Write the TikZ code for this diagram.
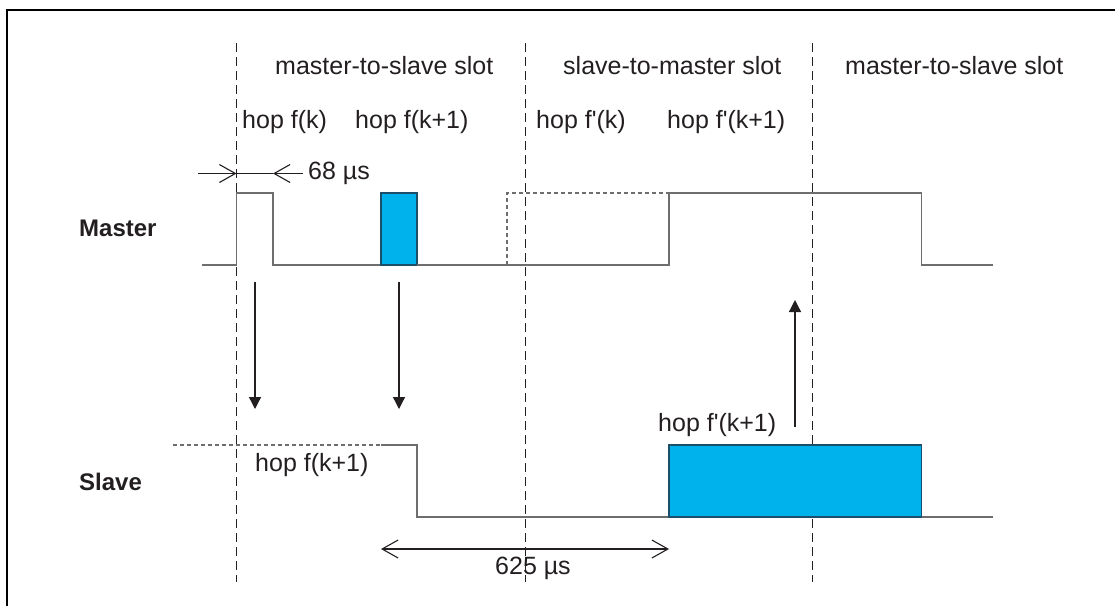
\documentclass[tikz,border=0pt]{standalone}
\usepackage{fontspec}
\setmainfont{Liberation Sans}
\usetikzlibrary{arrows.meta}
\definecolor{pulseblue}{RGB}{0,178,235}
\definecolor{pulseedge}{RGB}{28,78,108}
\definecolor{wave}{RGB}{110,110,110}
\definecolor{ink}{RGB}{35,31,32}
\begin{document}
\begin{tikzpicture}[x=1pt,y=-1pt,
  lbl/.style={anchor=base west, inner sep=0pt, font=\fontsize{25}{30}\selectfont, text=ink},
  rowlbl/.style={anchor=base west, inner sep=0pt, font=\fontsize{24}{28}\selectfont\bfseries, text=ink},
  slotline/.style={ink, line width=1.8pt, dash pattern=on 9pt off 5pt},
  waveline/.style={wave, line width=1.4pt},
  ghost/.style={wave, line width=1.2pt, dash pattern=on 4pt off 3pt},
  pulse/.style={fill=pulseblue, draw=pulseedge, line width=1.3pt},
  sig/.style={ink, line width=1.3pt, -{Triangle[length=12pt,width=12pt]}},
  barb/.tip={Straight Barb[length=16pt,width=18pt]},
  span/.style={ink, line width=1.1pt},
]
\useasboundingbox (0,0) rectangle (1115,606);

% frame (left and top edges)
\draw[line width=2.4pt] (7,606) -- (7,10) -- (1115,10);

% slot boundaries
\draw[slotline] (236.5,43) -- (236.5,582);
\draw[slotline] (525.5,43) -- (525.5,582);
\draw[slotline] (812.5,43) -- (812.5,582);

% master signal
\draw[ghost] (507,265) -- (507,193) -- (669,193);
\draw[waveline] (202,265) -- (236.5,265) -- (236.5,193) -- (273,193) -- (273,265) -- (381,265);
\draw[pulse] (381,265) rectangle (417,193);
\draw[waveline] (417,265) -- (669,265) -- (669,193) -- (921.5,193) -- (921.5,265) -- (993,265);

% slave signal
\draw[ghost] (173,445) -- (381,445);
\draw[waveline] (381,445) -- (417,445) -- (417,517) -- (669,517);
\draw[pulse] (669,517) rectangle (921.5,445);
\draw[waveline] (921.5,517) -- (993,517);

% hop signalling arrows
\coordinate (d1s) at (255,282);
\coordinate (d1e) at (255,409);
\coordinate (d2s) at (399,282);
\coordinate (d2e) at (399,409);
\coordinate (ups) at (795,427);
\coordinate (upe) at (795,300);
\draw[sig] (d1s) -- (d1e);
\draw[sig] (d2s) -- (d2e);
\draw[sig] (ups) -- (upe);

% 68 us guard time
\coordinate (g0) at (198,173.5);
\coordinate (g1) at (236.5,173.5);
\coordinate (g2) at (273,173.5);
\coordinate (g3) at (303,173.5);
\draw[span] (g1) -- (g2);
\draw[span, -barb] (g0) -- (g1);
\draw[span, -barb] (g3) -- (g2);

% 625 us slot length
\coordinate (p0) at (381,549);
\coordinate (p1) at (669,549);
\draw[span, barb-barb] (p0) -- (p1);

% labels
\node[lbl] (ms1) at (275,74) {master-to-slave slot};
\node[lbl] (sm)  at (563,74) {slave-to-master slot};
\node[lbl] (ms2) at (845,74) {master-to-slave slot};
\node[lbl] (h1) at (242,128) {hop f(k)};
\node[lbl] (h2) at (355,128) {hop f(k+1)};
\node[lbl] (h3) at (536,128) {hop f\textquotesingle(k)};
\node[lbl] (h4) at (667,128) {hop f\textquotesingle(k+1)};
\node[lbl] (t68) at (308,179) {68 µs};
\node[rowlbl] (mst) at (79,236) {Master};
\node[rowlbl] (slv) at (79,490) {Slave};
\node[lbl] (h5) at (255,471) {hop f(k+1)};
\node[lbl] (h6) at (658,431) {hop f\textquotesingle(k+1)};
\node[lbl] (t625) at (495,574) {625 µs};
\end{tikzpicture}
\end{document}
